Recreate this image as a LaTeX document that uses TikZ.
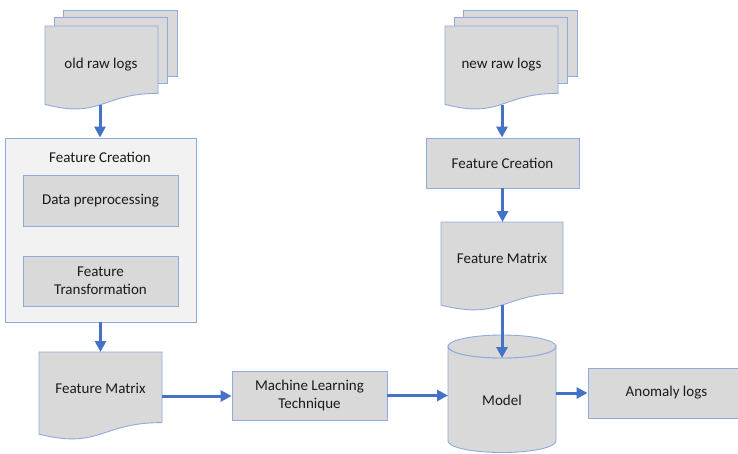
\documentclass[tikz,border=0pt]{standalone}
\usepackage{fontspec}
\setmainfont{Carlito}
\usetikzlibrary{arrows.meta}
\definecolor{boxfill}{HTML}{D9D9D9}
\definecolor{outerfill}{HTML}{F2F2F2}
\definecolor{edgeblue}{HTML}{8FAADC}
\definecolor{arrowblue}{HTML}{4472C4}
\definecolor{txt}{HTML}{1A1A1A}
\newcommand{\docshape}[4]{%
  \draw[shapebox] (#1,#2) -- (#3,#2) -- (#3,{#2+0.802*#4})
    .. controls ({(#1+#3)/2},{#2+0.802*#4}) and ({(#1+#3)/2},{#2+1.1075*#4}) ..
    (#1,{#2+0.934*#4}) -- cycle;}
\begin{document}
\begin{tikzpicture}[x=1pt,y=-1pt,
  shapebox/.style={draw=edgeblue, line width=0.9pt, fill=boxfill},
  procbox/.style={shapebox, rectangle, inner sep=0pt, align=center, text=txt, font=\fontsize{15}{18}\selectfont},
  lbl/.style={text=txt, font=\fontsize{15}{18}\selectfont, inner sep=0pt, align=center},
  flow/.style={draw=arrowblue, line width=3pt, -{Triangle[length=11pt,width=11pt]}}
]
\useasboundingbox (0,0) rectangle (738,453);

% old raw logs (multi-document)
\draw[shapebox] (63,10) rectangle (177,76);
\draw[shapebox] (54,17) rectangle (167,83);
\docshape{45}{26}{158}{84}
\node[lbl] (oldlogs) at (101,65) {old raw logs};
\coordinate (oldlogsbot) at (100,105);

% Feature creation group
\node[procbox, fill=outerfill, minimum width=191pt, minimum height=184pt] (fc1) at (100.5,230) {};
\node[lbl] (fc1title) at (100,157) {Feature Creation};
\node[procbox, minimum width=155pt, minimum height=51pt] (dp) at (100.5,200.5) {Data preprocessing};
\node[procbox, minimum width=155pt, minimum height=50pt] (ft) at (100.5,281) {Feature\\Transformation};

% Feature matrix (left)
\docshape{39}{352}{162}{88}
\node[lbl] (fm1) at (100.5,388) {Feature Matrix};
\coordinate (fm1top) at (100,352);
\coordinate (fm1right) at (162,396);

% Machine learning
\node[procbox, minimum width=155pt, minimum height=49pt] (ml) at (309.5,395.5) {Machine Learning\\Technique};

% new raw logs
\draw[shapebox] (463,10) rectangle (577,76);
\draw[shapebox] (454,17) rectangle (567,83);
\docshape{445}{26}{558}{84}
\node[lbl] (newlogs) at (501.5,65) {new raw logs};
\coordinate (newlogsbot) at (502,105);

\node[procbox, minimum width=153pt, minimum height=50pt] (fc2) at (502.5,163) {Feature Creation};

% Feature matrix (right)
\docshape{441}{222}{563}{89}
\node[lbl] (fm2) at (502,258) {Feature Matrix};
\coordinate (fm2top) at (502,222);
\coordinate (fm2bot) at (502,305);

% Model cylinder
\draw[shapebox] (448,346.5) -- (448,441)
  arc[start angle=180,end angle=0,x radius=54,y radius=11.5] -- (556,346.5)
  arc[start angle=0,end angle=180,x radius=54,y radius=11.5] -- cycle;
\draw[shapebox] (502,346.5) ellipse[x radius=54,y radius=11.5];
\node[lbl] (model) at (502,400) {Model};
\coordinate (modeltop) at (502,358);
\coordinate (modelleft) at (448,394);
\coordinate (modelright) at (556,393);

% Anomaly logs
\node[procbox, minimum width=157pt, minimum height=50pt] (anom) at (666.5,393) {Anomaly logs};

% connectors
\draw[flow] (oldlogsbot) -- (oldlogsbot |- fc1.north);
\draw[flow] (fc1.south) -- (fc1.south |- fm1top);
\draw[flow] (fm1right) -- (fm1right -| ml.west);
\draw[flow] (ml.east) -- (ml.east -| modelleft);
\draw[flow] (newlogsbot) -- (newlogsbot |- fc2.north);
\draw[flow] (fc2.south) -- (fc2.south |- fm2top);
\draw[flow] (fm2bot) -- (modeltop);
\draw[flow] (modelright) -- (modelright -| anom.west);
\end{tikzpicture}
\end{document}
